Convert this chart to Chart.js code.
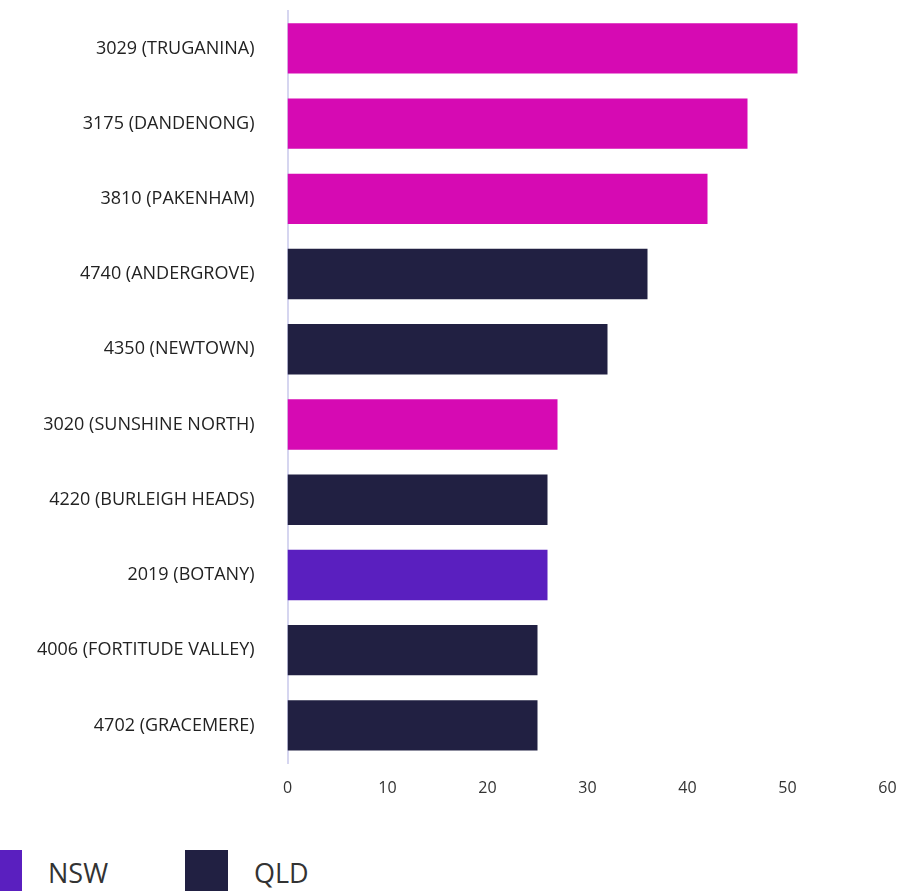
<!DOCTYPE html>
<html>
<head>
<meta charset="utf-8">
<script src="https://cdn.jsdelivr.net/npm/chart.js@4"></script>
<style>
  html, body { margin: 0; padding: 0; background: #fff; overflow: hidden; }
  #wrap { position: relative; width: 907px; height: 891px; }
  #chart-box { position: absolute; left: 0; top: 0; width: 907px; height: 800px; }
  .legend-item { position: absolute; top: 850px; height: 43px; display: flex; align-items: flex-start; }
  .legend-item .sw { width: 43px; height: 43px; flex: none; }
  .legend-item span { margin-left: 26px; margin-top: 8px; font-family: "Open Sans", "Noto Sans", sans-serif; font-size: 27px; color: #333; line-height: 30px; }
</style>
</head>
<body>
<div id="wrap">
  <div id="chart-box"><canvas id="postcodes"></canvas></div>
  <div id="legend"></div>
</div>
<script>
// postcodes, top to bottom
var labels = [
  "3029 (TRUGANINA)",
  "3175 (DANDENONG)",
  "3810 (PAKENHAM)",
  "4740 (ANDERGROVE)",
  "4350 (NEWTOWN)",
  "3020 (SUNSHINE NORTH)",
  "4220 (BURLEIGH HEADS)",
  "2019 (BOTANY)",
  "4006 (FORTITUDE VALLEY)",
  "4702 (GRACEMERE)"
];
var values = [51, 46, 42, 36, 32, 27, 26, 26, 25, 25];
var states = ["VIC", "VIC", "VIC", "QLD", "QLD", "VIC", "QLD", "NSW", "QLD", "QLD"];
var xTicks = [0, 10, 20, 30, 40, 50, 60];

var stateColors = {
  VIC: "#d60ab3",
  NSW: "#5a1fbf",
  QLD: "#212042"
};

// legend (VIC sits off the left edge like in the original export)
var legendPos = { VIC: -230, NSW: -21, QLD: 185 };
var legendEl = document.getElementById("legend");
["VIC", "NSW", "QLD"].forEach(function(s) {
  var item = document.createElement("div");
  item.className = "legend-item";
  item.style.left = legendPos[s] + "px";
  var sw = document.createElement("div");
  sw.className = "sw";
  sw.style.background = stateColors[s];
  var txt = document.createElement("span");
  txt.textContent = s;
  item.appendChild(sw);
  item.appendChild(txt);
  legendEl.appendChild(item);
});

var ctx = document.getElementById("postcodes");
var chart = new Chart(ctx, {
  type: "bar",
  data: {
    labels: labels,
    datasets: [{
      data: values,
      backgroundColor: states.map(function(s) { return stateColors[s]; }),
      borderWidth: 0,
      categoryPercentage: 1,
      barPercentage: 0.67
    }]
  },
  options: {
    indexAxis: "y",
    responsive: true,
    maintainAspectRatio: false,
    animation: false,
    layout: { autoPadding: false, padding: { top: 10, right: 19.5, left: 0, bottom: 0 } },
    plugins: {
      legend: { display: false },
      tooltip: { enabled: false }
    },
    scales: {
      x: {
        min: 0,
        max: 60,
        afterBuildTicks: function(scale) {
          scale.ticks = xTicks.map(function(v) { return { value: v }; });
        },
        afterFit: function(scale) { scale.height = 37; },
        grid: { display: false },
        border: { display: false },
        ticks: {
          padding: 8,
          color: "#333",
          font: { family: "'Open Sans', 'Noto Sans', sans-serif", size: 16 }
        }
      },
      y: {
        afterFit: function(scale) { scale.width = 287.5; },
        // gap between labels and axis comes from tickLength (tick marks are not drawn)
        grid: { display: false, drawTicks: true, tickLength: 33 },
        border: { display: true, color: "#d6d6f0", width: 2 },
        ticks: {
          padding: 0,
          color: "#222",
          font: { family: "'Open Sans', sans-serif", size: 18 }
        }
      }
    }
  }
});
</script>
</body>
</html>
